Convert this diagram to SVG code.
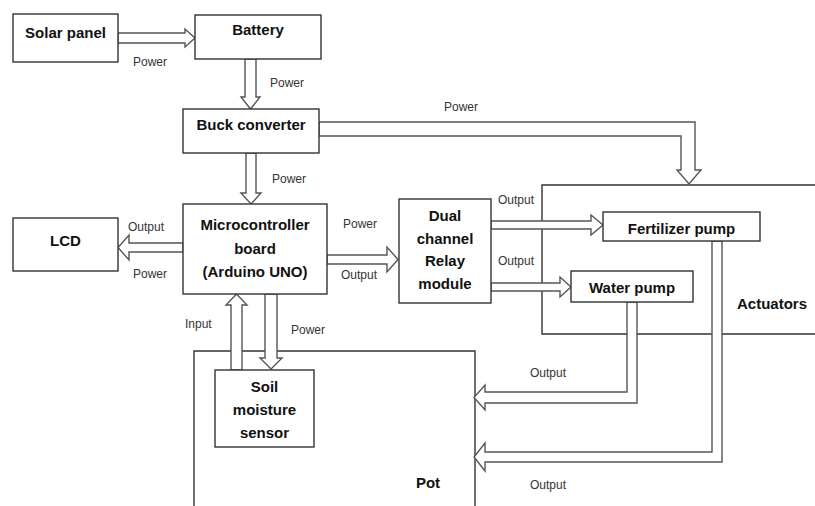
<svg xmlns="http://www.w3.org/2000/svg" width="815" height="506" viewBox="0 0 815 506">
<style>
.box{fill:#fff;stroke:#333;stroke-width:1.4}
.open{fill:none;stroke:#333;stroke-width:1.4}
.arr{fill:#fff;stroke:#555;stroke-width:1.4;stroke-linejoin:miter}
.t{font-family:"Liberation Sans",Arial,sans-serif;font-weight:bold;font-size:15px;fill:#111;text-anchor:middle}
.l{font-family:"Liberation Sans",Arial,sans-serif;font-size:12px;fill:#333}
</style>
<rect width="815" height="506" fill="#fff"/>
<g id="actuators">
<path class="open" d="M815,185 H542 V334 H815"/>
<text class="t" x="772" y="309">Actuators</text>
</g>
<g id="pot">
<path class="open" d="M194,506 V351 H475 V506"/>
<text class="t" x="428" y="488">Pot</text>
</g>
<g id="connectors">
<polygon class="arr" points="118,33 185,33 185,29 195,38 185,47 185,43 118,43"/>
<text class="l" x="133" y="66">Power</text>
<polygon class="arr" points="245,59 245,97 241,97 250.5,109 260,97 256,97 256,59"/>
<text class="l" x="270" y="87">Power</text>
<polygon class="arr" points="319,122 695,122 695,170 701,170 689,184 677,170 681,170 681,136 319,136"/>
<text class="l" x="444" y="111">Power</text>
<polygon class="arr" points="246,153 246,193 241,193 251,204 261,193 256,193 256,153"/>
<text class="l" x="272" y="183">Power</text>
<polygon class="arr" points="183,243 129,243 129,235 118,247.5 129,260 129,252 183,252"/>
<text class="l" x="128" y="231">Output</text>
<text class="l" x="133" y="278">Power</text>
<polygon class="arr" points="327,255 387,255 387,247 398,259.5 387,272 387,264 327,264"/>
<text class="l" x="343" y="228">Power</text>
<text class="l" x="341" y="279">Output</text>
<polygon class="arr" points="491,221 591,221 591,215 603,225 591,235 591,229 491,229"/>
<text class="l" x="498" y="204">Output</text>
<polygon class="arr" points="491,283 560,283 560,277 571,287 560,297 560,291 491,291"/>
<text class="l" x="498" y="265">Output</text>
<polygon class="arr" points="712,241 712,452 485,452 485,443 474,457 485,471 485,462 722,462 722,241"/>
<text class="l" x="530" y="489">Output</text>
<polygon class="arr" points="627,302 627,392 485,392 485,385 474,397.5 485,410 485,403 637,403 637,302"/>
<text class="l" x="530" y="377">Output</text>
<polygon class="arr" points="231,370 231,305 226,305 236.5,294 247,305 242,305 242,370"/>
<text class="l" x="185" y="328">Input</text>
<polygon class="arr" points="265,294 265,358 260,358 271,369 282,358 277,358 277,294"/>
<text class="l" x="291" y="334">Power</text>
</g>
<g id="solar">
<rect class="box" x="13" y="14" width="105" height="48"/>
<text class="t" x="65.5" y="38">Solar panel</text>
</g>
<g id="battery">
<rect class="box" x="195" y="15" width="126" height="44"/>
<text class="t" x="258" y="35">Battery</text>
</g>
<g id="buck">
<rect class="box" x="183" y="109" width="136" height="44"/>
<text class="t" x="251" y="130">Buck converter</text>
</g>
<g id="mcu">
<rect class="box" x="183" y="204" width="144" height="90"/>
<text class="t" x="255" y="230">Microcontroller</text>
<text class="t" x="255" y="254">board</text>
<text class="t" x="255" y="277">(Arduino UNO)</text>
</g>
<g id="lcd">
<rect class="box" x="13" y="218" width="105" height="53"/>
<text class="t" x="65.5" y="246">LCD</text>
</g>
<g id="relay">
<rect class="box" x="399" y="199" width="92" height="104"/>
<text class="t" x="445" y="221">Dual</text>
<text class="t" x="445" y="244">channel</text>
<text class="t" x="445" y="266">Relay</text>
<text class="t" x="445" y="289">module</text>
</g>
<g id="fertilizer">
<rect class="box" x="603" y="212" width="157" height="29"/>
<text class="t" x="681.5" y="234">Fertilizer pump</text>
</g>
<g id="water">
<rect class="box" x="571" y="271" width="122" height="31"/>
<text class="t" x="632" y="293">Water pump</text>
</g>
<g id="sensor">
<rect class="box" x="215" y="370" width="99" height="77"/>
<text class="t" x="264.5" y="392">Soil</text>
<text class="t" x="264.5" y="415">moisture</text>
<text class="t" x="264.5" y="438">sensor</text>
</g>
</svg>
